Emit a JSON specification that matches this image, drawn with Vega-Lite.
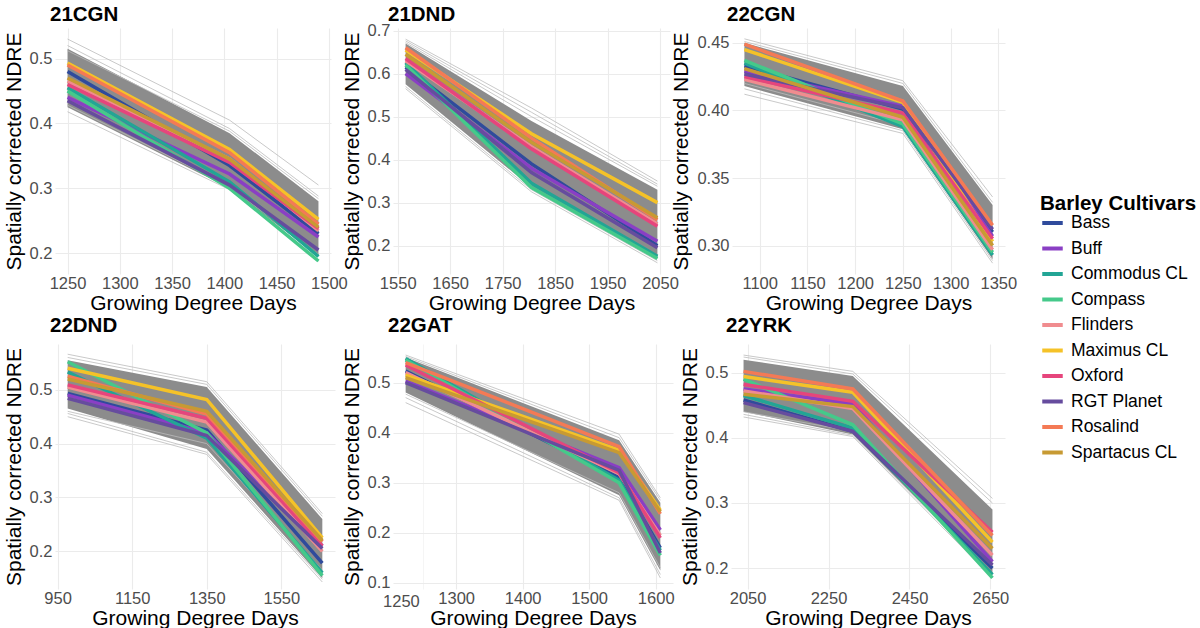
{
"$schema": "https://vega.github.io/schema/vega-lite/v6.json",
"background": "white",
"padding": {"left": 3, "top": 4, "right": 0, "bottom": 0},
"config": {
  "font": "Liberation Sans",
  "view": {"stroke": null},
  "axis": {"domain": false, "ticks": false, "labelColor": "#4d4d4d", "labelFontSize": 16.5, "titleFontSize": 21, "titleFontWeight": "normal", "titleColor": "#000000", "gridColor": "#ebebeb", "gridWidth": 1.1, "labelPadding": 3, "labelOverlap": false, "labelFlush": false},
  "axisX": {"titlePadding": 1, "labelPadding": 1},
  "axisY": {"titlePadding": 5},
  "title": {"fontSize": 20.5, "fontWeight": "bold", "anchor": "start", "frame": "group", "dx": -5, "offset": 3, "color": "#000000"},
  "legend": {"symbolType": "stroke", "symbolStrokeWidth": 4, "symbolSize": 420, "labelFontSize": 17.5, "titleFontSize": 20.5, "titleFontWeight": "bold", "titleColor": "#000000", "labelColor": "#000000", "rowPadding": 4.5, "titlePadding": -4, "labelOffset": 6}
},
"datasets": {
"core": [
{"panel":"21CGN","gdd":1250,"lo":0.425,"hi":0.515},{"panel":"21CGN","gdd":1405,"lo":0.30,"hi":0.385},{"panel":"21CGN","gdd":1490,"lo":0.195,"hi":0.28},
{"panel":"21DND","gdd":1565,"lo":0.575,"hi":0.67},{"panel":"21DND","gdd":1805,"lo":0.335,"hi":0.49},{"panel":"21DND","gdd":2045,"lo":0.17,"hi":0.33},
{"panel":"22CGN","gdd":1084,"lo":0.418,"hi":0.45},{"panel":"22CGN","gdd":1250,"lo":0.386,"hi":0.418},{"panel":"22CGN","gdd":1344,"lo":0.29,"hi":0.33},
{"panel":"22DND","gdd":977,"lo":0.465,"hi":0.555},{"panel":"22DND","gdd":1350,"lo":0.39,"hi":0.505},{"panel":"22DND","gdd":1660,"lo":0.15,"hi":0.26},
{"panel":"22GAT","gdd":1224,"lo":0.48,"hi":0.55},{"panel":"22GAT","gdd":1545,"lo":0.275,"hi":0.385},{"panel":"22GAT","gdd":1607,"lo":0.125,"hi":0.26},
{"panel":"22YRK","gdd":2040,"lo":0.44,"hi":0.52},{"panel":"22YRK","gdd":2310,"lo":0.405,"hi":0.495},{"panel":"22YRK","gdd":2655,"lo":0.19,"hi":0.29}
],
"grey": [
{"panel":"21CGN","line":"g1","gdd":1250,"ndre":0.53},{"panel":"21CGN","line":"g1","gdd":1405,"ndre":0.405},{"panel":"21CGN","line":"g1","gdd":1490,"ndre":0.305},
{"panel":"21CGN","line":"g2","gdd":1250,"ndre":0.52},{"panel":"21CGN","line":"g2","gdd":1405,"ndre":0.392},{"panel":"21CGN","line":"g2","gdd":1490,"ndre":0.288},
{"panel":"21CGN","line":"g3","gdd":1250,"ndre":0.512},{"panel":"21CGN","line":"g3","gdd":1405,"ndre":0.388},{"panel":"21CGN","line":"g3","gdd":1490,"ndre":0.284},
{"panel":"21CGN","line":"g4","gdd":1250,"ndre":0.418},{"panel":"21CGN","line":"g4","gdd":1405,"ndre":0.298},{"panel":"21CGN","line":"g4","gdd":1490,"ndre":0.188},
{"panel":"21CGN","line":"g5","gdd":1250,"ndre":0.428},{"panel":"21CGN","line":"g5","gdd":1405,"ndre":0.303},{"panel":"21CGN","line":"g5","gdd":1490,"ndre":0.198},
{"panel":"21DND","line":"g1","gdd":1565,"ndre":0.68},{"panel":"21DND","line":"g1","gdd":1805,"ndre":0.52},{"panel":"21DND","line":"g1","gdd":2045,"ndre":0.35},
{"panel":"21DND","line":"g2","gdd":1565,"ndre":0.676},{"panel":"21DND","line":"g2","gdd":1805,"ndre":0.51},{"panel":"21DND","line":"g2","gdd":2045,"ndre":0.343},
{"panel":"21DND","line":"g3","gdd":1565,"ndre":0.672},{"panel":"21DND","line":"g3","gdd":1805,"ndre":0.5},{"panel":"21DND","line":"g3","gdd":2045,"ndre":0.338},
{"panel":"21DND","line":"g4","gdd":1565,"ndre":0.565},{"panel":"21DND","line":"g4","gdd":1805,"ndre":0.325},{"panel":"21DND","line":"g4","gdd":2045,"ndre":0.16},
{"panel":"21DND","line":"g5","gdd":1565,"ndre":0.57},{"panel":"21DND","line":"g5","gdd":1805,"ndre":0.33},{"panel":"21DND","line":"g5","gdd":2045,"ndre":0.165},
{"panel":"22CGN","line":"g1","gdd":1084,"ndre":0.453},{"panel":"22CGN","line":"g1","gdd":1250,"ndre":0.422},{"panel":"22CGN","line":"g1","gdd":1344,"ndre":0.336},
{"panel":"22CGN","line":"g2","gdd":1084,"ndre":0.451},{"panel":"22CGN","line":"g2","gdd":1250,"ndre":0.42},{"panel":"22CGN","line":"g2","gdd":1344,"ndre":0.332},
{"panel":"22CGN","line":"g3","gdd":1084,"ndre":0.412},{"panel":"22CGN","line":"g3","gdd":1250,"ndre":0.383},{"panel":"22CGN","line":"g3","gdd":1344,"ndre":0.287},
{"panel":"22CGN","line":"g4","gdd":1084,"ndre":0.416},{"panel":"22CGN","line":"g4","gdd":1250,"ndre":0.385},{"panel":"22CGN","line":"g4","gdd":1344,"ndre":0.289},
{"panel":"22CGN","line":"g5","gdd":1084,"ndre":0.42},{"panel":"22CGN","line":"g5","gdd":1250,"ndre":0.389},{"panel":"22CGN","line":"g5","gdd":1344,"ndre":0.298},
{"panel":"22DND","line":"g1","gdd":977,"ndre":0.566},{"panel":"22DND","line":"g1","gdd":1350,"ndre":0.515},{"panel":"22DND","line":"g1","gdd":1660,"ndre":0.27},
{"panel":"22DND","line":"g2","gdd":977,"ndre":0.56},{"panel":"22DND","line":"g2","gdd":1350,"ndre":0.51},{"panel":"22DND","line":"g2","gdd":1660,"ndre":0.265},
{"panel":"22DND","line":"g3","gdd":977,"ndre":0.45},{"panel":"22DND","line":"g3","gdd":1350,"ndre":0.38},{"panel":"22DND","line":"g3","gdd":1660,"ndre":0.143},
{"panel":"22DND","line":"g4","gdd":977,"ndre":0.456},{"panel":"22DND","line":"g4","gdd":1350,"ndre":0.384},{"panel":"22DND","line":"g4","gdd":1660,"ndre":0.148},
{"panel":"22DND","line":"g5","gdd":977,"ndre":0.46},{"panel":"22DND","line":"g5","gdd":1350,"ndre":0.4},{"panel":"22DND","line":"g5","gdd":1660,"ndre":0.165},
{"panel":"22GAT","line":"g1","gdd":1224,"ndre":0.555},{"panel":"22GAT","line":"g1","gdd":1545,"ndre":0.397},{"panel":"22GAT","line":"g1","gdd":1607,"ndre":0.27},
{"panel":"22GAT","line":"g2","gdd":1224,"ndre":0.552},{"panel":"22GAT","line":"g2","gdd":1545,"ndre":0.39},{"panel":"22GAT","line":"g2","gdd":1607,"ndre":0.265},
{"panel":"22GAT","line":"g3","gdd":1224,"ndre":0.46},{"panel":"22GAT","line":"g3","gdd":1545,"ndre":0.265},{"panel":"22GAT","line":"g3","gdd":1607,"ndre":0.11},
{"panel":"22GAT","line":"g4","gdd":1224,"ndre":0.47},{"panel":"22GAT","line":"g4","gdd":1545,"ndre":0.27},{"panel":"22GAT","line":"g4","gdd":1607,"ndre":0.117},
{"panel":"22GAT","line":"g5","gdd":1224,"ndre":0.477},{"panel":"22GAT","line":"g5","gdd":1545,"ndre":0.28},{"panel":"22GAT","line":"g5","gdd":1607,"ndre":0.13},
{"panel":"22YRK","line":"g1","gdd":2040,"ndre":0.527},{"panel":"22YRK","line":"g1","gdd":2310,"ndre":0.502},{"panel":"22YRK","line":"g1","gdd":2655,"ndre":0.307},
{"panel":"22YRK","line":"g2","gdd":2040,"ndre":0.524},{"panel":"22YRK","line":"g2","gdd":2310,"ndre":0.498},{"panel":"22YRK","line":"g2","gdd":2655,"ndre":0.3},
{"panel":"22YRK","line":"g3","gdd":2040,"ndre":0.432},{"panel":"22YRK","line":"g3","gdd":2310,"ndre":0.402},{"panel":"22YRK","line":"g3","gdd":2655,"ndre":0.185},
{"panel":"22YRK","line":"g4","gdd":2040,"ndre":0.436},{"panel":"22YRK","line":"g4","gdd":2310,"ndre":0.404},{"panel":"22YRK","line":"g4","gdd":2655,"ndre":0.19},
{"panel":"22YRK","line":"g5","gdd":2040,"ndre":0.44},{"panel":"22YRK","line":"g5","gdd":2310,"ndre":0.41},{"panel":"22YRK","line":"g5","gdd":2655,"ndre":0.2}
],
"cult": [
{"panel":"21CGN","cultivar":"Bass","gdd":1250,"ndre":0.48},{"panel":"21CGN","cultivar":"Bass","gdd":1405,"ndre":0.335},{"panel":"21CGN","cultivar":"Bass","gdd":1490,"ndre":0.23},
{"panel":"21CGN","cultivar":"Buff","gdd":1250,"ndre":0.44},{"panel":"21CGN","cultivar":"Buff","gdd":1405,"ndre":0.322},{"panel":"21CGN","cultivar":"Buff","gdd":1490,"ndre":0.225},
{"panel":"21CGN","cultivar":"Commodus CL","gdd":1250,"ndre":0.455},{"panel":"21CGN","cultivar":"Commodus CL","gdd":1405,"ndre":0.31},{"panel":"21CGN","cultivar":"Commodus CL","gdd":1490,"ndre":0.195},
{"panel":"21CGN","cultivar":"Compass","gdd":1250,"ndre":0.45},{"panel":"21CGN","cultivar":"Compass","gdd":1405,"ndre":0.30},{"panel":"21CGN","cultivar":"Compass","gdd":1490,"ndre":0.188},
{"panel":"21CGN","cultivar":"Flinders","gdd":1250,"ndre":0.465},{"panel":"21CGN","cultivar":"Flinders","gdd":1405,"ndre":0.345},{"panel":"21CGN","cultivar":"Flinders","gdd":1490,"ndre":0.235},
{"panel":"21CGN","cultivar":"Maximus CL","gdd":1250,"ndre":0.493},{"panel":"21CGN","cultivar":"Maximus CL","gdd":1405,"ndre":0.36},{"panel":"21CGN","cultivar":"Maximus CL","gdd":1490,"ndre":0.252},
{"panel":"21CGN","cultivar":"Oxford","gdd":1250,"ndre":0.46},{"panel":"21CGN","cultivar":"Oxford","gdd":1405,"ndre":0.34},{"panel":"21CGN","cultivar":"Oxford","gdd":1490,"ndre":0.238},
{"panel":"21CGN","cultivar":"RGT Planet","gdd":1250,"ndre":0.435},{"panel":"21CGN","cultivar":"RGT Planet","gdd":1405,"ndre":0.305},{"panel":"21CGN","cultivar":"RGT Planet","gdd":1490,"ndre":0.205},
{"panel":"21CGN","cultivar":"Rosalind","gdd":1250,"ndre":0.49},{"panel":"21CGN","cultivar":"Rosalind","gdd":1405,"ndre":0.355},{"panel":"21CGN","cultivar":"Rosalind","gdd":1490,"ndre":0.245},
{"panel":"21CGN","cultivar":"Spartacus CL","gdd":1250,"ndre":0.47},{"panel":"21CGN","cultivar":"Spartacus CL","gdd":1405,"ndre":0.345},{"panel":"21CGN","cultivar":"Spartacus CL","gdd":1490,"ndre":0.24},
{"panel":"21DND","cultivar":"Bass","gdd":1565,"ndre":0.615},{"panel":"21DND","cultivar":"Bass","gdd":1805,"ndre":0.39},{"panel":"21DND","cultivar":"Bass","gdd":2045,"ndre":0.2},
{"panel":"21DND","cultivar":"Buff","gdd":1565,"ndre":0.6},{"panel":"21DND","cultivar":"Buff","gdd":1805,"ndre":0.38},{"panel":"21DND","cultivar":"Buff","gdd":2045,"ndre":0.21},
{"panel":"21DND","cultivar":"Commodus CL","gdd":1565,"ndre":0.625},{"panel":"21DND","cultivar":"Commodus CL","gdd":1805,"ndre":0.345},{"panel":"21DND","cultivar":"Commodus CL","gdd":2045,"ndre":0.175},
{"panel":"21DND","cultivar":"Compass","gdd":1565,"ndre":0.62},{"panel":"21DND","cultivar":"Compass","gdd":1805,"ndre":0.335},{"panel":"21DND","cultivar":"Compass","gdd":2045,"ndre":0.17},
{"panel":"21DND","cultivar":"Flinders","gdd":1565,"ndre":0.63},{"panel":"21DND","cultivar":"Flinders","gdd":1805,"ndre":0.43},{"panel":"21DND","cultivar":"Flinders","gdd":2045,"ndre":0.25},
{"panel":"21DND","cultivar":"Maximus CL","gdd":1565,"ndre":0.655},{"panel":"21DND","cultivar":"Maximus CL","gdd":1805,"ndre":0.46},{"panel":"21DND","cultivar":"Maximus CL","gdd":2045,"ndre":0.3},
{"panel":"21DND","cultivar":"Oxford","gdd":1565,"ndre":0.635},{"panel":"21DND","cultivar":"Oxford","gdd":1805,"ndre":0.425},{"panel":"21DND","cultivar":"Oxford","gdd":2045,"ndre":0.245},
{"panel":"21DND","cultivar":"RGT Planet","gdd":1565,"ndre":0.61},{"panel":"21DND","cultivar":"RGT Planet","gdd":1805,"ndre":0.37},{"panel":"21DND","cultivar":"RGT Planet","gdd":2045,"ndre":0.195},
{"panel":"21DND","cultivar":"Rosalind","gdd":1565,"ndre":0.66},{"panel":"21DND","cultivar":"Rosalind","gdd":1805,"ndre":0.45},{"panel":"21DND","cultivar":"Rosalind","gdd":2045,"ndre":0.26},
{"panel":"21DND","cultivar":"Spartacus CL","gdd":1565,"ndre":0.645},{"panel":"21DND","cultivar":"Spartacus CL","gdd":1805,"ndre":0.44},{"panel":"21DND","cultivar":"Spartacus CL","gdd":2045,"ndre":0.265},
{"panel":"22CGN","cultivar":"Bass","gdd":1084,"ndre":0.433},{"panel":"22CGN","cultivar":"Bass","gdd":1250,"ndre":0.401},{"panel":"22CGN","cultivar":"Bass","gdd":1344,"ndre":0.31},
{"panel":"22CGN","cultivar":"Buff","gdd":1084,"ndre":0.429},{"panel":"22CGN","cultivar":"Buff","gdd":1250,"ndre":0.403},{"panel":"22CGN","cultivar":"Buff","gdd":1344,"ndre":0.307},
{"panel":"22CGN","cultivar":"Commodus CL","gdd":1084,"ndre":0.435},{"panel":"22CGN","cultivar":"Commodus CL","gdd":1250,"ndre":0.388},{"panel":"22CGN","cultivar":"Commodus CL","gdd":1344,"ndre":0.293},
{"panel":"22CGN","cultivar":"Compass","gdd":1084,"ndre":0.437},{"panel":"22CGN","cultivar":"Compass","gdd":1250,"ndre":0.39},{"panel":"22CGN","cultivar":"Compass","gdd":1344,"ndre":0.295},
{"panel":"22CGN","cultivar":"Flinders","gdd":1084,"ndre":0.423},{"panel":"22CGN","cultivar":"Flinders","gdd":1250,"ndre":0.393},{"panel":"22CGN","cultivar":"Flinders","gdd":1344,"ndre":0.297},
{"panel":"22CGN","cultivar":"Maximus CL","gdd":1084,"ndre":0.445},{"panel":"22CGN","cultivar":"Maximus CL","gdd":1250,"ndre":0.406},{"panel":"22CGN","cultivar":"Maximus CL","gdd":1344,"ndre":0.303},
{"panel":"22CGN","cultivar":"Oxford","gdd":1084,"ndre":0.425},{"panel":"22CGN","cultivar":"Oxford","gdd":1250,"ndre":0.398},{"panel":"22CGN","cultivar":"Oxford","gdd":1344,"ndre":0.305},
{"panel":"22CGN","cultivar":"RGT Planet","gdd":1084,"ndre":0.427},{"panel":"22CGN","cultivar":"RGT Planet","gdd":1250,"ndre":0.402},{"panel":"22CGN","cultivar":"RGT Planet","gdd":1344,"ndre":0.312},
{"panel":"22CGN","cultivar":"Rosalind","gdd":1084,"ndre":0.449},{"panel":"22CGN","cultivar":"Rosalind","gdd":1250,"ndre":0.407},{"panel":"22CGN","cultivar":"Rosalind","gdd":1344,"ndre":0.315},
{"panel":"22CGN","cultivar":"Spartacus CL","gdd":1084,"ndre":0.431},{"panel":"22CGN","cultivar":"Spartacus CL","gdd":1250,"ndre":0.395},{"panel":"22CGN","cultivar":"Spartacus CL","gdd":1344,"ndre":0.3},
{"panel":"22DND","cultivar":"Bass","gdd":977,"ndre":0.493},{"panel":"22DND","cultivar":"Bass","gdd":1350,"ndre":0.425},{"panel":"22DND","cultivar":"Bass","gdd":1660,"ndre":0.178},
{"panel":"22DND","cultivar":"Buff","gdd":977,"ndre":0.49},{"panel":"22DND","cultivar":"Buff","gdd":1350,"ndre":0.42},{"panel":"22DND","cultivar":"Buff","gdd":1660,"ndre":0.21},
{"panel":"22DND","cultivar":"Commodus CL","gdd":977,"ndre":0.533},{"panel":"22DND","cultivar":"Commodus CL","gdd":1350,"ndre":0.41},{"panel":"22DND","cultivar":"Commodus CL","gdd":1660,"ndre":0.16},
{"panel":"22DND","cultivar":"Compass","gdd":977,"ndre":0.552},{"panel":"22DND","cultivar":"Compass","gdd":1350,"ndre":0.42},{"panel":"22DND","cultivar":"Compass","gdd":1660,"ndre":0.155},
{"panel":"22DND","cultivar":"Flinders","gdd":977,"ndre":0.505},{"panel":"22DND","cultivar":"Flinders","gdd":1350,"ndre":0.44},{"panel":"22DND","cultivar":"Flinders","gdd":1660,"ndre":0.2},
{"panel":"22DND","cultivar":"Maximus CL","gdd":977,"ndre":0.54},{"panel":"22DND","cultivar":"Maximus CL","gdd":1350,"ndre":0.482},{"panel":"22DND","cultivar":"Maximus CL","gdd":1660,"ndre":0.225},
{"panel":"22DND","cultivar":"Oxford","gdd":977,"ndre":0.509},{"panel":"22DND","cultivar":"Oxford","gdd":1350,"ndre":0.447},{"panel":"22DND","cultivar":"Oxford","gdd":1660,"ndre":0.21},
{"panel":"22DND","cultivar":"RGT Planet","gdd":977,"ndre":0.484},{"panel":"22DND","cultivar":"RGT Planet","gdd":1350,"ndre":0.415},{"panel":"22DND","cultivar":"RGT Planet","gdd":1660,"ndre":0.205},
{"panel":"22DND","cultivar":"Rosalind","gdd":977,"ndre":0.525},{"panel":"22DND","cultivar":"Rosalind","gdd":1350,"ndre":0.455},{"panel":"22DND","cultivar":"Rosalind","gdd":1660,"ndre":0.218},
{"panel":"22DND","cultivar":"Spartacus CL","gdd":977,"ndre":0.52},{"panel":"22DND","cultivar":"Spartacus CL","gdd":1350,"ndre":0.46},{"panel":"22DND","cultivar":"Spartacus CL","gdd":1660,"ndre":0.22},
{"panel":"22GAT","cultivar":"Bass","gdd":1224,"ndre":0.523},{"panel":"22GAT","cultivar":"Bass","gdd":1545,"ndre":0.31},{"panel":"22GAT","cultivar":"Bass","gdd":1607,"ndre":0.17},
{"panel":"22GAT","cultivar":"Buff","gdd":1224,"ndre":0.503},{"panel":"22GAT","cultivar":"Buff","gdd":1545,"ndre":0.33},{"panel":"22GAT","cultivar":"Buff","gdd":1607,"ndre":0.206},
{"panel":"22GAT","cultivar":"Commodus CL","gdd":1224,"ndre":0.548},{"panel":"22GAT","cultivar":"Commodus CL","gdd":1545,"ndre":0.305},{"panel":"22GAT","cultivar":"Commodus CL","gdd":1607,"ndre":0.165},
{"panel":"22GAT","cultivar":"Compass","gdd":1224,"ndre":0.545},{"panel":"22GAT","cultivar":"Compass","gdd":1545,"ndre":0.3},{"panel":"22GAT","cultivar":"Compass","gdd":1607,"ndre":0.155},
{"panel":"22GAT","cultivar":"Flinders","gdd":1224,"ndre":0.52},{"panel":"22GAT","cultivar":"Flinders","gdd":1545,"ndre":0.318},{"panel":"22GAT","cultivar":"Flinders","gdd":1607,"ndre":0.195},
{"panel":"22GAT","cultivar":"Maximus CL","gdd":1224,"ndre":0.515},{"panel":"22GAT","cultivar":"Maximus CL","gdd":1545,"ndre":0.365},{"panel":"22GAT","cultivar":"Maximus CL","gdd":1607,"ndre":0.245},
{"panel":"22GAT","cultivar":"Oxford","gdd":1224,"ndre":0.535},{"panel":"22GAT","cultivar":"Oxford","gdd":1545,"ndre":0.32},{"panel":"22GAT","cultivar":"Oxford","gdd":1607,"ndre":0.19},
{"panel":"22GAT","cultivar":"RGT Planet","gdd":1224,"ndre":0.5},{"panel":"22GAT","cultivar":"RGT Planet","gdd":1545,"ndre":0.325},{"panel":"22GAT","cultivar":"RGT Planet","gdd":1607,"ndre":0.16},
{"panel":"22GAT","cultivar":"Rosalind","gdd":1224,"ndre":0.54},{"panel":"22GAT","cultivar":"Rosalind","gdd":1545,"ndre":0.372},{"panel":"22GAT","cultivar":"Rosalind","gdd":1607,"ndre":0.238},
{"panel":"22GAT","cultivar":"Spartacus CL","gdd":1224,"ndre":0.51},{"panel":"22GAT","cultivar":"Spartacus CL","gdd":1545,"ndre":0.36},{"panel":"22GAT","cultivar":"Spartacus CL","gdd":1607,"ndre":0.242},
{"panel":"22YRK","cultivar":"Bass","gdd":2040,"ndre":0.458},{"panel":"22YRK","cultivar":"Bass","gdd":2310,"ndre":0.41},{"panel":"22YRK","cultivar":"Bass","gdd":2655,"ndre":0.2},
{"panel":"22YRK","cultivar":"Buff","gdd":2040,"ndre":0.475},{"panel":"22YRK","cultivar":"Buff","gdd":2310,"ndre":0.452},{"panel":"22YRK","cultivar":"Buff","gdd":2655,"ndre":0.21},
{"panel":"22YRK","cultivar":"Commodus CL","gdd":2040,"ndre":0.465},{"panel":"22YRK","cultivar":"Commodus CL","gdd":2310,"ndre":0.415},{"panel":"22YRK","cultivar":"Commodus CL","gdd":2655,"ndre":0.19},
{"panel":"22YRK","cultivar":"Compass","gdd":2040,"ndre":0.49},{"panel":"22YRK","cultivar":"Compass","gdd":2310,"ndre":0.42},{"panel":"22YRK","cultivar":"Compass","gdd":2655,"ndre":0.185},
{"panel":"22YRK","cultivar":"Flinders","gdd":2040,"ndre":0.472},{"panel":"22YRK","cultivar":"Flinders","gdd":2310,"ndre":0.445},{"panel":"22YRK","cultivar":"Flinders","gdd":2655,"ndre":0.22},
{"panel":"22YRK","cultivar":"Maximus CL","gdd":2040,"ndre":0.494},{"panel":"22YRK","cultivar":"Maximus CL","gdd":2310,"ndre":0.47},{"panel":"22YRK","cultivar":"Maximus CL","gdd":2655,"ndre":0.24},
{"panel":"22YRK","cultivar":"Oxford","gdd":2040,"ndre":0.482},{"panel":"22YRK","cultivar":"Oxford","gdd":2310,"ndre":0.456},{"panel":"22YRK","cultivar":"Oxford","gdd":2655,"ndre":0.255},
{"panel":"22YRK","cultivar":"RGT Planet","gdd":2040,"ndre":0.454},{"panel":"22YRK","cultivar":"RGT Planet","gdd":2310,"ndre":0.41},{"panel":"22YRK","cultivar":"RGT Planet","gdd":2655,"ndre":0.205},
{"panel":"22YRK","cultivar":"Rosalind","gdd":2040,"ndre":0.502},{"panel":"22YRK","cultivar":"Rosalind","gdd":2310,"ndre":0.475},{"panel":"22YRK","cultivar":"Rosalind","gdd":2655,"ndre":0.25},
{"panel":"22YRK","cultivar":"Spartacus CL","gdd":2040,"ndre":0.467},{"panel":"22YRK","cultivar":"Spartacus CL","gdd":2310,"ndre":0.448},{"panel":"22YRK","cultivar":"Spartacus CL","gdd":2655,"ndre":0.23}
]
},
"spacing": 1,
"vconcat": [
{"hconcat": [
{"width": 276, "height": 246, "title": "21CGN",
 "resolve": {"axis": {"x": "independent", "y": "independent"}},
 "layer": [
  {"data": {"name": "core"}, "transform": [{"filter": "datum.panel == '21CGN'"}], "mark": {"type": "area", "color": "#8c8c8c"},
   "encoding": {
    "x": {"field": "gdd", "type": "quantitative", "title": "Growing Degree Days", "scale": {"domain": [1238, 1502], "nice": false, "zero": false},
      "axis": {"values": [1250,1300,1350,1400,1450,1500], "format": "d"}},
    "y": {"field": "hi", "type": "quantitative", "title": "Spatially corrected NDRE", "scale": {"domain": [0.168, 0.547], "nice": false, "zero": false},
      "axis": {"values": [0.2,0.3,0.4,0.5], "format": ".1f"}},
    "y2": {"field": "lo"}}},
  {"data": {"name": "grey"}, "transform": [{"filter": "datum.panel == '21CGN'"}], "mark": {"type": "line", "color": "#bbbbbb", "strokeWidth": 0.8},
   "encoding": {"x": {"field": "gdd", "type": "quantitative", "axis": {"orient": "top", "values": [1275,1325,1375,1425,1475], "labels": false, "title": null, "gridWidth": 0.5}},
    "y": {"field": "ndre", "type": "quantitative", "axis": {"orient": "right", "values": [0.25,0.35,0.45], "labels": false, "title": null, "gridWidth": 0.5}}, "detail": {"field": "line"}}},
  {"data": {"name": "cult"}, "transform": [{"filter": "datum.panel == '21CGN'"}], "mark": {"type": "line", "strokeWidth": 3.5},
   "encoding": {"x": {"field": "gdd", "type": "quantitative", "axis": null}, "y": {"field": "ndre", "type": "quantitative", "axis": null},
    "color": {"field": "cultivar", "type": "nominal", "title": "Barley Cultivars",
      "scale": {"domain": ["Bass","Buff","Commodus CL","Compass","Flinders","Maximus CL","Oxford","RGT Planet","Rosalind","Spartacus CL"], "range": ["#2f4b9c","#8a3fc4","#22a595","#45c98a","#f08c8f","#f5c228","#e6457c","#664c9e","#f47a55","#c79a33"]},
      "legend": {"orient": "none", "legendX": 985, "legendY": 166}}}}
 ]},
{"width": 277, "height": 246, "title": {"text": "21DND", "offset": -3},
 "resolve": {"axis": {"x": "independent", "y": "independent"}},
 "layer": [
  {"data": {"name": "core"}, "transform": [{"filter": "datum.panel == '21DND'"}], "mark": {"type": "area", "color": "#8c8c8c"},
   "encoding": {
    "x": {"field": "gdd", "type": "quantitative", "title": "Growing Degree Days", "scale": {"domain": [1541, 2069], "nice": false, "zero": false},
      "axis": {"values": [1550,1650,1750,1850,1950,2050], "format": "d"}},
    "y": {"field": "hi", "type": "quantitative", "title": "Spatially corrected NDRE", "scale": {"domain": [0.134, 0.706], "nice": false, "zero": false},
      "axis": {"values": [0.2,0.3,0.4,0.5,0.6,0.7], "format": ".1f"}},
    "y2": {"field": "lo"}}},
  {"data": {"name": "grey"}, "transform": [{"filter": "datum.panel == '21DND'"}], "mark": {"type": "line", "color": "#bbbbbb", "strokeWidth": 0.8},
   "encoding": {"x": {"field": "gdd", "type": "quantitative", "axis": {"orient": "top", "values": [1600,1700,1800,1900,2000], "labels": false, "title": null, "gridWidth": 0.5}},
    "y": {"field": "ndre", "type": "quantitative", "axis": {"orient": "right", "values": [0.15,0.25,0.35,0.45,0.55,0.65], "labels": false, "title": null, "gridWidth": 0.5}}, "detail": {"field": "line"}}},
  {"data": {"name": "cult"}, "transform": [{"filter": "datum.panel == '21DND'"}], "mark": {"type": "line", "strokeWidth": 3.5},
   "encoding": {"x": {"field": "gdd", "type": "quantitative", "axis": null}, "y": {"field": "ndre", "type": "quantitative", "axis": null},
    "color": {"field": "cultivar", "type": "nominal", "title": "Barley Cultivars",
      "scale": {"domain": ["Bass","Buff","Commodus CL","Compass","Flinders","Maximus CL","Oxford","RGT Planet","Rosalind","Spartacus CL"], "range": ["#2f4b9c","#8a3fc4","#22a595","#45c98a","#f08c8f","#f5c228","#e6457c","#664c9e","#f47a55","#c79a33"]},
      "legend": {"orient": "none", "legendX": 985, "legendY": 166}}}}
 ]},
{"width": 273, "height": 246, "title": "22CGN",
 "resolve": {"axis": {"x": "independent", "y": "independent"}},
 "layer": [
  {"data": {"name": "core"}, "transform": [{"filter": "datum.panel == '22CGN'"}], "mark": {"type": "area", "color": "#8c8c8c"},
   "encoding": {
    "x": {"field": "gdd", "type": "quantitative", "title": "Growing Degree Days", "scale": {"domain": [1071, 1357], "nice": false, "zero": false},
      "axis": {"values": [1100,1150,1200,1250,1300,1350], "format": "d"}},
    "y": {"field": "hi", "type": "quantitative", "title": "Spatially corrected NDRE", "scale": {"domain": [0.279, 0.461], "nice": false, "zero": false},
      "axis": {"values": [0.3,0.35,0.4,0.45], "format": ".2f"}},
    "y2": {"field": "lo"}}},
  {"data": {"name": "grey"}, "transform": [{"filter": "datum.panel == '22CGN'"}], "mark": {"type": "line", "color": "#bbbbbb", "strokeWidth": 0.8},
   "encoding": {"x": {"field": "gdd", "type": "quantitative", "axis": {"orient": "top", "values": [1075,1125,1175,1225,1275,1325], "labels": false, "title": null, "gridWidth": 0.5}},
    "y": {"field": "ndre", "type": "quantitative", "axis": {"orient": "right", "values": [0.325,0.375,0.425], "labels": false, "title": null, "gridWidth": 0.5}}, "detail": {"field": "line"}}},
  {"data": {"name": "cult"}, "transform": [{"filter": "datum.panel == '22CGN'"}], "mark": {"type": "line", "strokeWidth": 3.5},
   "encoding": {"x": {"field": "gdd", "type": "quantitative", "axis": null}, "y": {"field": "ndre", "type": "quantitative", "axis": null},
    "color": {"field": "cultivar", "type": "nominal", "title": "Barley Cultivars",
      "scale": {"domain": ["Bass","Buff","Commodus CL","Compass","Flinders","Maximus CL","Oxford","RGT Planet","Rosalind","Spartacus CL"], "range": ["#2f4b9c","#8a3fc4","#22a595","#45c98a","#f08c8f","#f5c228","#e6457c","#664c9e","#f47a55","#c79a33"]},
      "legend": {"orient": "none", "legendX": 985, "legendY": 166}}}}
 ]}
], "spacing": 62, "bounds": "flush"},
{"hconcat": [
{"width": 280, "height": 245, "title": {"text": "22DND", "offset": 8},
 "resolve": {"axis": {"x": "independent", "y": "independent"}},
 "layer": [
  {"data": {"name": "core"}, "transform": [{"filter": "datum.panel == '22DND'"}], "mark": {"type": "area", "color": "#8c8c8c"},
   "encoding": {
    "x": {"field": "gdd", "type": "quantitative", "title": "Growing Degree Days", "scale": {"domain": [943, 1694], "nice": false, "zero": false},
      "axis": {"values": [950,1150,1350,1550], "format": "d"}},
    "y": {"field": "hi", "type": "quantitative", "title": "Spatially corrected NDRE", "scale": {"domain": [0.13, 0.585], "nice": false, "zero": false},
      "axis": {"values": [0.2,0.3,0.4,0.5], "format": ".1f"}},
    "y2": {"field": "lo"}}},
  {"data": {"name": "grey"}, "transform": [{"filter": "datum.panel == '22DND'"}], "mark": {"type": "line", "color": "#bbbbbb", "strokeWidth": 0.8},
   "encoding": {"x": {"field": "gdd", "type": "quantitative", "axis": {"orient": "top", "values": [983.33,1016.67,1050,1083.33,1116.67,1183.33,1216.67,1250,1283.33,1316.67,1383.33,1416.67,1450,1483.33,1516.67,1583.33,1616.67,1650,1683.33], "labels": false, "title": null, "gridWidth": 0.5}},
    "y": {"field": "ndre", "type": "quantitative", "axis": {"orient": "right", "values": [0.15,0.25,0.35,0.45,0.55], "labels": false, "title": null, "gridWidth": 0.5}}, "detail": {"field": "line"}}},
  {"data": {"name": "cult"}, "transform": [{"filter": "datum.panel == '22DND'"}], "mark": {"type": "line", "strokeWidth": 3.5},
   "encoding": {"x": {"field": "gdd", "type": "quantitative", "axis": null}, "y": {"field": "ndre", "type": "quantitative", "axis": null},
    "color": {"field": "cultivar", "type": "nominal", "title": "Barley Cultivars",
      "scale": {"domain": ["Bass","Buff","Commodus CL","Compass","Flinders","Maximus CL","Oxford","RGT Planet","Rosalind","Spartacus CL"], "range": ["#2f4b9c","#8a3fc4","#22a595","#45c98a","#f08c8f","#f5c228","#e6457c","#664c9e","#f47a55","#c79a33"]},
      "legend": {"orient": "none", "legendX": 985, "legendY": 166}}}}
 ]},
{"width": 280, "height": 245, "title": {"text": "22GAT", "offset": 8},
 "resolve": {"axis": {"x": "independent", "y": "independent"}},
 "layer": [
  {"data": {"name": "core"}, "transform": [{"filter": "datum.panel == '22GAT'"}], "mark": {"type": "area", "color": "#8c8c8c"},
   "encoding": {
    "x": {"field": "gdd", "type": "quantitative", "title": "Growing Degree Days", "scale": {"domain": [1205, 1626], "nice": false, "zero": false},
      "axis": {"values": [1250,1300,1400,1500,1600], "format": "d", "titlePadding": -2, "gridWidth": {"condition": {"test": "datum.value == 1250", "value": 0.5}, "value": 1.1}, "labelOffset": {"condition": {"test": "datum.value == 1250", "value": -22}, "value": 0}, "labelPadding": {"condition": {"test": "datum.value == 1250", "value": 4}, "value": 1}}},
    "y": {"field": "hi", "type": "quantitative", "title": "Spatially corrected NDRE", "scale": {"domain": [0.088, 0.577], "nice": false, "zero": false},
      "axis": {"values": [0.1,0.2,0.3,0.4,0.5], "format": ".1f"}},
    "y2": {"field": "lo"}}},
  {"data": {"name": "grey"}, "transform": [{"filter": "datum.panel == '22GAT'"}], "mark": {"type": "line", "color": "#bbbbbb", "strokeWidth": 0.8},
   "encoding": {"x": {"field": "gdd", "type": "quantitative", "axis": {"orient": "top", "values": [1350,1450,1550], "labels": false, "title": null, "gridWidth": 0.5}},
    "y": {"field": "ndre", "type": "quantitative", "axis": {"orient": "right", "values": [0.15,0.25,0.35,0.45,0.55], "labels": false, "title": null, "gridWidth": 0.5}}, "detail": {"field": "line"}}},
  {"data": {"name": "cult"}, "transform": [{"filter": "datum.panel == '22GAT'"}], "mark": {"type": "line", "strokeWidth": 3.5},
   "encoding": {"x": {"field": "gdd", "type": "quantitative", "axis": null}, "y": {"field": "ndre", "type": "quantitative", "axis": null},
    "color": {"field": "cultivar", "type": "nominal", "title": "Barley Cultivars",
      "scale": {"domain": ["Bass","Buff","Commodus CL","Compass","Flinders","Maximus CL","Oxford","RGT Planet","Rosalind","Spartacus CL"], "range": ["#2f4b9c","#8a3fc4","#22a595","#45c98a","#f08c8f","#f5c228","#e6457c","#664c9e","#f47a55","#c79a33"]},
      "legend": {"orient": "none", "legendX": 985, "legendY": 166}}}}
 ]},
{"width": 274, "height": 245, "title": {"text": "22YRK", "offset": 8},
 "resolve": {"axis": {"x": "independent", "y": "independent"}},
 "layer": [
  {"data": {"name": "core"}, "transform": [{"filter": "datum.panel == '22YRK'"}], "mark": {"type": "area", "color": "#8c8c8c"},
   "encoding": {
    "x": {"field": "gdd", "type": "quantitative", "title": "Growing Degree Days", "scale": {"domain": [2009, 2686], "nice": false, "zero": false},
      "axis": {"values": [2050,2250,2450,2650], "format": "d"}},
    "y": {"field": "hi", "type": "quantitative", "title": "Spatially corrected NDRE", "scale": {"domain": [0.168, 0.544], "nice": false, "zero": false},
      "axis": {"values": [0.2,0.3,0.4,0.5], "format": ".1f"}},
    "y2": {"field": "lo"}}},
  {"data": {"name": "grey"}, "transform": [{"filter": "datum.panel == '22YRK'"}], "mark": {"type": "line", "color": "#bbbbbb", "strokeWidth": 0.8},
   "encoding": {"x": {"field": "gdd", "type": "quantitative", "axis": {"orient": "top", "values": [2016.67,2083.33,2116.67,2150,2183.33,2216.67,2283.33,2316.67,2350,2383.33,2416.67,2483.33,2516.67,2550,2583.33,2616.67,2683.33], "labels": false, "title": null, "gridWidth": 0.5}},
    "y": {"field": "ndre", "type": "quantitative", "axis": {"orient": "right", "values": [0.25,0.35,0.45], "labels": false, "title": null, "gridWidth": 0.5}}, "detail": {"field": "line"}}},
  {"data": {"name": "cult"}, "transform": [{"filter": "datum.panel == '22YRK'"}], "mark": {"type": "line", "strokeWidth": 3.5},
   "encoding": {"x": {"field": "gdd", "type": "quantitative", "axis": null}, "y": {"field": "ndre", "type": "quantitative", "axis": null},
    "color": {"field": "cultivar", "type": "nominal", "title": "Barley Cultivars",
      "scale": {"domain": ["Bass","Buff","Commodus CL","Compass","Flinders","Maximus CL","Oxford","RGT Planet","Rosalind","Spartacus CL"], "range": ["#2f4b9c","#8a3fc4","#22a595","#45c98a","#f08c8f","#f5c228","#e6457c","#664c9e","#f47a55","#c79a33"]},
      "legend": {"orient": "none", "legendX": 985, "legendY": 166}}}}
 ]}
], "spacing": 58, "bounds": "flush"}
]
}
